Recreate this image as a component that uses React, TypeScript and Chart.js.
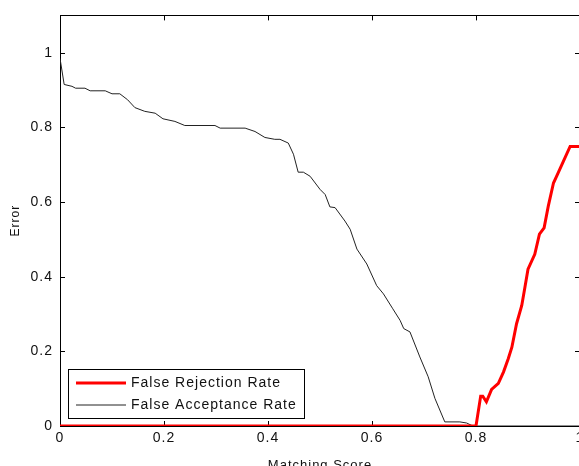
import { useEffect, useRef } from "react";
import { Chart, registerables } from "chart.js";

Chart.register(...registerables);

// False Rejection Rate (red)
const frrScore = [0, 0.8, 0.809, 0.813, 0.82, 0.83, 0.843, 0.853, 0.862, 0.869, 0.878, 0.888, 0.894, 0.9, 0.913, 0.922, 0.931, 0.939, 0.949, 0.958, 0.968, 0.981, 0.99, 1.0];
const frrError = [0, 0, 0.08, 0.08, 0.065, 0.098, 0.114, 0.145, 0.18, 0.211, 0.274, 0.323, 0.371, 0.42, 0.46, 0.514, 0.531, 0.589, 0.651, 0.678, 0.709, 0.749, 0.749, 0.749];

// False Acceptance Rate (black)
const farScore = [0, 0.008, 0.023, 0.03, 0.048, 0.058, 0.087, 0.1, 0.115, 0.13, 0.144, 0.163, 0.183, 0.198, 0.221, 0.24, 0.298, 0.308, 0.356, 0.375, 0.394, 0.413, 0.423, 0.439, 0.449, 0.458, 0.468, 0.481, 0.5, 0.51, 0.519, 0.529, 0.548, 0.558, 0.571, 0.59, 0.609, 0.622, 0.64, 0.654, 0.661, 0.673, 0.692, 0.708, 0.721, 0.74, 0.769, 0.782, 0.794, 1.0];
const farError = [0.985, 0.915, 0.91, 0.905, 0.905, 0.898, 0.898, 0.89, 0.89, 0.874, 0.853, 0.843, 0.838, 0.823, 0.816, 0.805, 0.805, 0.798, 0.798, 0.789, 0.773, 0.768, 0.768, 0.758, 0.728, 0.68, 0.68, 0.669, 0.634, 0.62, 0.587, 0.585, 0.549, 0.527, 0.474, 0.434, 0.376, 0.354, 0.314, 0.283, 0.261, 0.252, 0.185, 0.132, 0.074, 0.011, 0.011, 0.008, 0, 0];

const seriesLabels = ["False Rejection Rate", "False Acceptance Rate"];
const seriesColors = ["#ff0000", "#222222"];
const seriesWidths = [3, 1];
const xTicks = [0, 0.2, 0.4, 0.6, 0.8, 1];
const yTicks = [0, 0.2, 0.4, 0.6, 0.8, 1];
const xTitle = "Matching Score";
const yTitle = "Error";

const FONT = "'Liberation Sans', Arial, Helvetica, sans-serif";

const fmt = (v: number) => String(Number(Number(v).toFixed(2)));

const spacingPlugin = {
  id: "spacing",
  beforeLayout(chart: any) {
    chart.ctx.letterSpacing = "1px";
  },
  beforeDraw(chart: any) {
    chart.ctx.letterSpacing = "1px";
  },
};

const framePlugin = {
  id: "frame",
  beforeDatasetsDraw(chart: any) {
    const { ctx, chartArea } = chart;
    const { left, right, top, bottom } = chartArea;
    const xs = chart.scales.x;
    const ys = chart.scales.y;
    ctx.save();
    ctx.strokeStyle = "#000";
    ctx.lineWidth = 1;
    ctx.strokeRect(Math.round(left) + 0.5, Math.round(top) + 0.5, Math.round(right - left), Math.round(bottom - top));
    ctx.beginPath();
    const tl = 5;
    for (const v of xTicks) {
      const px = Math.round(xs.getPixelForValue(v)) + 0.5;
      ctx.moveTo(px, bottom);
      ctx.lineTo(px, bottom - tl);
      ctx.moveTo(px, top);
      ctx.lineTo(px, top + tl);
    }
    for (const v of yTicks) {
      const py = Math.round(ys.getPixelForValue(v)) + 0.5;
      ctx.moveTo(left, py);
      ctx.lineTo(left + tl, py);
      ctx.moveTo(right, py);
      ctx.lineTo(right - tl, py);
    }
    ctx.stroke();
    ctx.restore();
  },
};

const legendPlugin = {
  id: "boxLegend",
  afterDatasetsDraw(chart: any) {
    const { ctx, chartArea } = chart;
    const bx = chartArea.left + 8;
    const bw = 236;
    const bh = 49;
    const by = chartArea.bottom - 8 - bh;
    ctx.save();
    ctx.fillStyle = "#fff";
    ctx.fillRect(bx, by, bw, bh);
    ctx.strokeStyle = "#000";
    ctx.lineWidth = 1;
    ctx.strokeRect(bx + 0.5, by + 0.5, bw, bh);
    ctx.font = `14px ${FONT}`;
    ctx.textBaseline = "middle";
    ctx.textAlign = "left";
    chart.data.datasets.forEach((ds: any, i: number) => {
      const cy = by + 14 + i * 22;
      ctx.beginPath();
      ctx.strokeStyle = ds.borderColor;
      ctx.lineWidth = ds.borderWidth;
      ctx.moveTo(bx + 8, cy);
      ctx.lineTo(bx + 58, cy);
      ctx.stroke();
      ctx.fillStyle = "#111";
      ctx.fillText(ds.label, bx + 63, cy);
    });
    ctx.restore();
  },
};

export default function App() {
  const ref = useRef<HTMLCanvasElement | null>(null);

  useEffect(() => {
    if (!ref.current) return;
    const toPoints = (xs: number[], ys: number[]) => xs.map((x, i) => ({ x, y: ys[i] }));
    const chart = new Chart(ref.current, {
      type: "line",
      data: {
        datasets: [
          {
            label: seriesLabels[0],
            data: toPoints(frrScore, frrError),
            borderColor: seriesColors[0],
            borderWidth: seriesWidths[0],
            pointRadius: 0,
            tension: 0,
            fill: false,
          },
          {
            label: seriesLabels[1],
            data: toPoints(farScore, farError),
            borderColor: seriesColors[1],
            borderWidth: seriesWidths[1],
            pointRadius: 0,
            tension: 0,
            fill: false,
          },
        ],
      },
      options: {
        responsive: false,
        animation: false,
        devicePixelRatio: 1,
        layout: { padding: { left: 0, top: 14, right: 20, bottom: 0 } },
        plugins: {
          legend: { display: false },
          tooltip: { enabled: false },
        },
        font: { family: FONT },
        scales: {
          x: {
            type: "linear",
            min: 0,
            max: 1,
            afterFit(s: any) {
              s.height = 54;
            },
            grid: { display: false, drawTicks: false },
            border: { display: false },
            ticks: {
              stepSize: 0.2,
              padding: 4,
              color: "#111",
              autoSkip: false,
              maxRotation: 0,
              font: { family: FONT, size: 14 },
              callback: (v: any) => fmt(v),
            },
            title: {
              display: true,
              text: xTitle,
              color: "#111",
              font: { family: FONT, size: 13 },
              padding: { top: 0, bottom: 7 },
            },
          },
          y: {
            type: "linear",
            min: 0,
            max: 1.1,
            afterFit(s: any) {
              s.width = 60;
            },
            grid: { display: false, drawTicks: false },
            border: { display: false },
            ticks: {
              stepSize: 0.2,
              includeBounds: false,
              padding: 7,
              color: "#111",
              font: { family: FONT, size: 14 },
              callback: (v: any) => fmt(v),
            },
            title: {
              display: true,
              text: yTitle,
              color: "#111",
              font: { family: FONT, size: 12 },
              padding: { top: 8, bottom: 0 },
            },
          },
        },
      } as any,
      plugins: [spacingPlugin, framePlugin, legendPlugin],
    });
    return () => chart.destroy();
  }, []);

  return (
    <div
      style={{
        position: "fixed",
        left: 0,
        top: 0,
        width: 579,
        height: 466,
        overflow: "hidden",
        background: "#fff",
      }}
    >
      <canvas ref={ref} width={600} height={480} style={{ width: 600, height: 480, display: "block" }} />
    </div>
  );
}
